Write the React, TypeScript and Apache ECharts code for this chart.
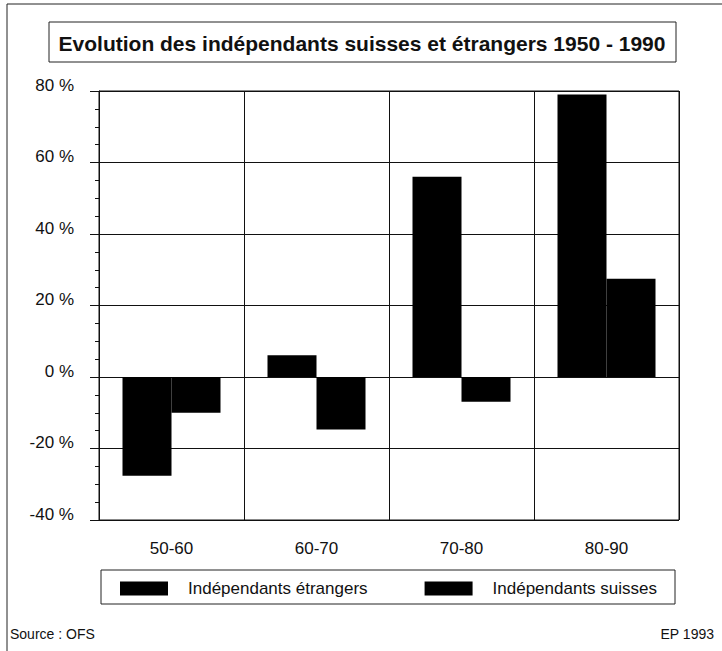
import React, { useEffect, useRef } from "react";
import * as echarts from "echarts";

const categories = ["50-60", "60-70", "70-80", "80-90"];
const etrangers = [-27.6, 6.1, 56, 79];
const suisses = [-10, -14.7, -6.9, 27.5];
const seriesNames = ["Indépendants étrangers", "Indépendants suisses"];
const titleText = "Evolution des indépendants suisses et étrangers 1950 - 1990";
const sourceText = "Source : OFS";
const creditText = "EP 1993";

const FONT = "Liberation Sans, Arial, Helvetica, sans-serif";

export default function App() {
  const ref = useRef<HTMLDivElement>(null);
  useEffect(() => {
    if (!ref.current) return;
    const chart = echarts.init(ref.current, null, { renderer: "svg" });
    chart.setOption({
      animation: false,
      backgroundColor: "#ffffff",
      textStyle: { fontFamily: FONT },
      grid: {
        left: 99,
        top: 91,
        right: 43,
        bottom: 131,
        show: true,
        borderColor: "#111",
        borderWidth: 1,
      },
      xAxis: {
        type: "category",
        data: categories,
        axisLine: { show: true, lineStyle: { color: "#111", width: 1 } },
        axisTick: { show: false },
        splitLine: { show: true, lineStyle: { color: "#111", width: 1 } },
        axisLabel: { color: "#111", fontSize: 17, margin: 20, fontFamily: FONT },
      },
      yAxis: {
        type: "value",
        min: -40,
        max: 80,
        interval: 20,
        axisLine: { show: true, lineStyle: { color: "#111", width: 1 } },
        axisTick: { show: true, length: 9, lineStyle: { color: "#111" } },
        minorTick: { show: true, splitNumber: 4, length: 4, lineStyle: { color: "#111" } },
        splitLine: { show: true, lineStyle: { color: "#111", width: 1 } },
        axisLabel: {
          color: "#111",
          fontSize: 17,
          margin: 25,
          fontFamily: FONT,
          formatter: (v: number) => `${v} %`,
          verticalAlign: "bottom",
          lineHeight: 12,
        },
      },
      legend: {
        left: 120,
        top: 580,
        padding: 0,
        itemWidth: 48,
        itemHeight: 14,
        itemGap: 57,
        icon: "rect",
        textStyle: { color: "#111", fontSize: 17, fontFamily: FONT, padding: [0, 0, 0, 15] },
        data: seriesNames,
      },
      series: [
        {
          name: seriesNames[0],
          type: "bar",
          data: etrangers,
          barWidth: 49,
          barGap: "0%",
          itemStyle: { color: "#000" },
        },
        {
          name: seriesNames[1],
          type: "bar",
          data: suisses,
          barWidth: 49,
          barGap: "0%",
          itemStyle: { color: "#000" },
        },
      ],
      graphic: [
        {
          type: "rect",
          shape: { x: 7, y: 4, width: 730, height: 660 },
          style: { fill: "none", stroke: "#222", lineWidth: 1 },
          silent: true,
        },
        {
          type: "rect",
          shape: { x: 49, y: 22, width: 627, height: 40 },
          style: { fill: "none", stroke: "#222", lineWidth: 1 },
          silent: true,
        },
        {
          type: "text",
          x: 362,
          y: 43,
          style: {
            text: titleText,
            fontSize: 21,
            fontWeight: "bold",
            fontFamily: FONT,
            fill: "#111",
            align: "center",
            verticalAlign: "middle",
          },
        },
        {
          type: "rect",
          shape: { x: 101, y: 570, width: 574, height: 34 },
          style: { fill: "none", stroke: "#222", lineWidth: 1 },
          silent: true,
        },
        {
          type: "text",
          x: 10,
          y: 634,
          style: {
            text: sourceText,
            fontSize: 14,
            fontFamily: FONT,
            fill: "#111",
            align: "left",
            verticalAlign: "middle",
          },
        },
        {
          type: "text",
          x: 714,
          y: 634,
          style: {
            text: creditText,
            fontSize: 14,
            fontFamily: FONT,
            fill: "#111",
            align: "right",
            verticalAlign: "middle",
          },
        },
      ],
    });
    return () => chart.dispose();
  }, []);
  return <div ref={ref} style={{ width: 722, height: 651, position: "fixed", left: 0, top: 0 }} />;
}
